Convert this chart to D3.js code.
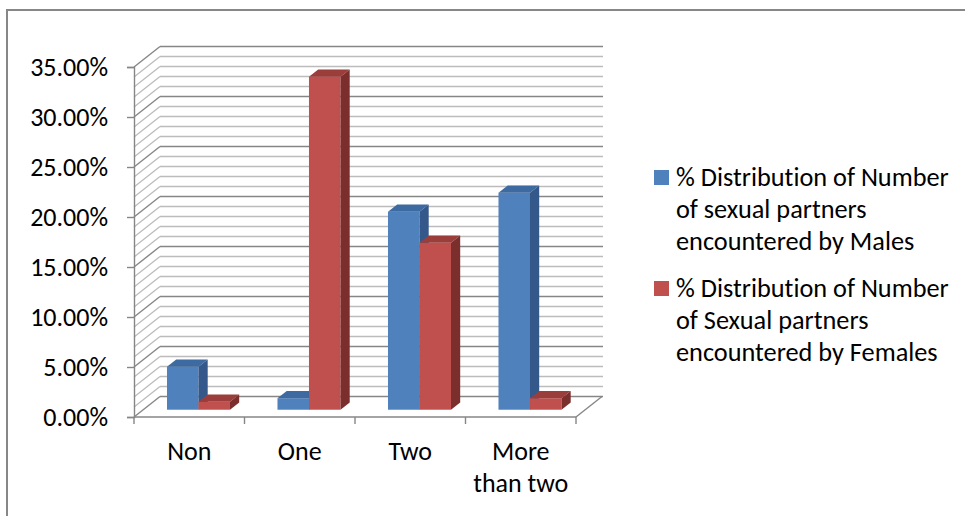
<!DOCTYPE html>
<html>
<head>
<meta charset="utf-8">
<script src="https://cdn.jsdelivr.net/npm/d3@7"></script>
<style>
  html, body { margin: 0; padding: 0; background: #fff; }
  svg { display: block; }
  text { font-family: Carlito, Calibri, Lato, sans-serif; fill: #000;
         font-variant-ligatures: none; font-feature-settings: "liga" 0, "clig" 0; }
</style>
</head>
<body>
<svg id="chart" width="965" height="516"></svg>
<script>
// ---- data ----
const categories = ["Non", "One", "Two", "More than two"];
const categoryLines = [["Non"], ["One"], ["Two"], ["More", "than two"]];
const seriesNames = [
  "% Distribution of Number of sexual partners encountered by Males",
  "% Distribution of Number of Sexual partners encountered by Females"
];
const legendLines = [
  ["% Distribution of Number", "of sexual partners", "encountered by Males"],
  ["% Distribution of Number", "of Sexual partners", "encountered by Females"]
];
const males = [4.3, 1.15, 19.8, 21.7];
const females = [0.8, 33.3, 16.7, 1.15];
const yTicks = [0, 5, 10, 15, 20, 25, 30, 35];
const yMinorTicks = d3.range(0, 36, 1);

// ---- styles ----
const frontColors = ["#4f81bd", "#c0504d"];
const topColors = ["#3d6aa0", "#9b3d3b"];
const sideColors = ["#35588a", "#7c2e2d"];
const majorGrid = "#868686";
const minorGrid = "#bcbcbc";
const fsLegend = 26.3, fsTick = 26, fsCat = 26;

const svg = d3.select("#chart");

// frame
svg.append("path")
  .attr("d", "M7,516 L7,10 L965,10")
  .attr("fill", "none").attr("stroke", "#878787").attr("stroke-width", 2);

// ---- scales ----
const x = d3.scaleBand().domain(categories).range([134, 576]).padding(0);
const y = d3.scaleLinear().domain([0, 35]).range([417, 67]);
const DX = 26, DY = -20.5;           // depth offset of back wall
const F0 = 0.355, F1 = 0.71;          // bar front/back depth fractions
const xs = d3.scaleBand().domain([0, 1]).range([0, x.bandwidth()]).paddingInner(0).paddingOuter(0.754);

const g = svg.append("g");

// walls grid
yMinorTicks.forEach(v => {
  const major = v % 5 === 0;
  const col = major ? majorGrid : minorGrid;
  const yy = y(v);
  g.append("line")
    .attr("x1", 134 + DX).attr("x2", 576 + DX + 1)
    .attr("y1", yy + DY).attr("y2", yy + DY)
    .attr("stroke", col).attr("stroke-width", major ? 1.4 : 1.3);
  g.append("line")
    .attr("x1", 134).attr("y1", yy)
    .attr("x2", 134 + DX).attr("y2", yy + DY)
    .attr("stroke", col).attr("stroke-width", major ? 1.4 : 1.3);
});

// floor right edge
g.append("line").attr("x1", 576).attr("y1", y(0)).attr("x2", 576 + DX).attr("y2", y(0) + DY)
  .attr("stroke", majorGrid).attr("stroke-width", 1.4);

// y axis
const yAxis = d3.axisLeft(y).tickValues(yTicks).tickSize(7).tickPadding(19)
  .tickFormat(d => d3.format(".2f")(d) + "%");
const ya = svg.append("g").attr("transform", "translate(134,0)").call(yAxis);
ya.attr("font-family", null);
ya.select(".domain").attr("stroke", majorGrid).attr("stroke-width", 1.4);
ya.selectAll(".tick line").attr("stroke", majorGrid).attr("stroke-width", 1.4);
ya.selectAll(".tick text").attr("font-size", fsTick).attr("dy", "0.32em");

// x axis
const xAxis = d3.axisBottom(x).tickSize(0).tickFormat("");
const xa = svg.append("g").attr("transform", `translate(0,${y(0)})`).call(xAxis);
xa.select(".domain").attr("stroke", majorGrid).attr("stroke-width", 1.4).attr("d", `M134,0H576`);
const bounds = categories.map(c => x(c)).concat([x.range()[1]]);
xa.selectAll(".bt").data(bounds).enter().append("line")
  .attr("x1", d => d).attr("x2", d => d).attr("y1", 0).attr("y2", 7)
  .attr("stroke", majorGrid).attr("stroke-width", 1.4);

// category labels
const labels = svg.append("g");
categories.forEach((c, i) => {
  const t = labels.append("text")
    .attr("x", x(c) + x.bandwidth() / 2)
    .attr("text-anchor", "middle")
    .attr("font-size", fsCat);
  categoryLines[i].forEach((ln, j) => {
    t.append("tspan").attr("x", x(c) + x.bandwidth() / 2)
      .attr("y", 460 + j * 32).text(ln);
  });
});

// bars
const series = [males, females];
const bars = svg.append("g");
categories.forEach((c, ci) => {
  [0, 1].forEach(si => {
    const v = series[si][ci];
    const xl = x(c) + xs(si) + F0 * DX;
    const xr = xl + xs.bandwidth();
    const yb = y(0) + F0 * DY;
    const yt = y(v) + F0 * DY;
    const ddx = (F1 - F0) * DX, ddy = (F1 - F0) * DY;
    bars.append("rect").attr("x", xl).attr("y", yt).attr("width", xr - xl).attr("height", yb - yt)
      .attr("fill", frontColors[si]);
    bars.append("path")
      .attr("d", `M${xl},${yt}L${xr},${yt}L${xr + ddx},${yt + ddy}L${xl + ddx},${yt + ddy}Z`)
      .attr("fill", topColors[si]);
    bars.append("path")
      .attr("d", `M${xr},${yt}L${xr + ddx},${yt + ddy}L${xr + ddx},${yb + ddy}L${xr},${yb}Z`)
      .attr("fill", sideColors[si]);
  });
});

// legend
const legend = svg.append("g");
const legendTop = [186, 297];
legendLines.forEach((lines, i) => {
  legend.append("rect").attr("x", 654).attr("y", legendTop[i] - 16).attr("width", 15).attr("height", 15)
    .attr("fill", frontColors[i]);
  const t = legend.append("text").attr("font-size", fsLegend);
  lines.forEach((ln, j) => {
    t.append("tspan").attr("x", 676).attr("y", legendTop[i] + j * 32).text(ln);
  });
});
</script>
</body>
</html>
